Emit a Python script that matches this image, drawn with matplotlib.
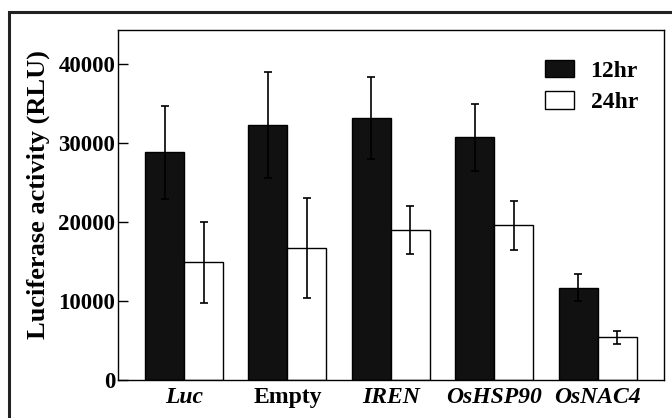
import matplotlib
matplotlib.use("Agg")
import matplotlib.pyplot as plt
import numpy as np
from matplotlib.patches import Rectangle

categories = ["Luc", "Empty", "IREN", "OsHSP90", "OsNAC4"]
italic = [True, False, True, True, True]
vals_12 = [28800, 32300, 33200, 30700, 11700]
err_12 = [5900, 6700, 5200, 4200, 1700]
vals_24 = [14900, 16700, 19000, 19600, 5400]
err_24 = [5100, 6300, 3000, 3100, 800]
yticks = [0, 10000, 20000, 30000, 40000]

plt.rcParams['font.family'] = ['Liberation Serif', 'DejaVu Serif']
plt.rcParams['font.weight'] = 'bold'

fig = plt.figure(figsize=(6.72, 4.18), dpi=100)
ax = fig.add_axes([118/672, 1-380/418, (664-118)/672, (380-30)/418])

x = np.arange(len(categories))
w = 0.377
ekw = dict(ecolor='black', elinewidth=1.2, capsize=3, capthick=1.2)
ax.bar(x - w/2, vals_12, w, color='#111111', edgecolor='black', linewidth=1.0,
       yerr=err_12, error_kw=ekw, label='12hr', zorder=2)
ax.bar(x + w/2, vals_24, w, color='white', edgecolor='black', linewidth=1.0,
       yerr=err_24, error_kw=ekw, label='24hr', zorder=2)

ax.set_xlim(-0.638, 4.64)
ax.set_ylim(0, 44300)
ax.set_yticks(yticks)
ax.set_yticklabels([str(t) for t in yticks], fontsize=16.5, fontweight='bold')
ax.set_xticks(x)
ax.set_xticklabels(categories, fontsize=17, fontweight='bold')
for lab, it in zip(ax.get_xticklabels(), italic):
    if it:
        lab.set_fontstyle('italic')
ax.tick_params(axis='x', length=0, pad=5)
ax.tick_params(axis='y', length=7, width=1.0, pad=2, direction='in')
for s in ax.spines.values():
    s.set_linewidth(1.0)

ax.set_ylabel('Luciferase activity (RLU)', fontsize=19, fontweight='bold')
ax.yaxis.set_label_coords(-(118-50)/546, 0.529)

leg = ax.legend(loc='upper left', bbox_to_anchor=((545-118)/546, (380-60)/350),
                frameon=False, borderpad=0, borderaxespad=0,
                fontsize=17, handlelength=1.23, handleheight=0.75, handletextpad=0.7,
                labelspacing=0.4)

fig.add_artist(Rectangle((9/672, -0.1), 2.0, (418-12)/418 + 0.1,
                         transform=fig.transFigure, fill=False,
                         linewidth=2.2, edgecolor='#222222'))

fig.savefig('out.png', dpi=100)
